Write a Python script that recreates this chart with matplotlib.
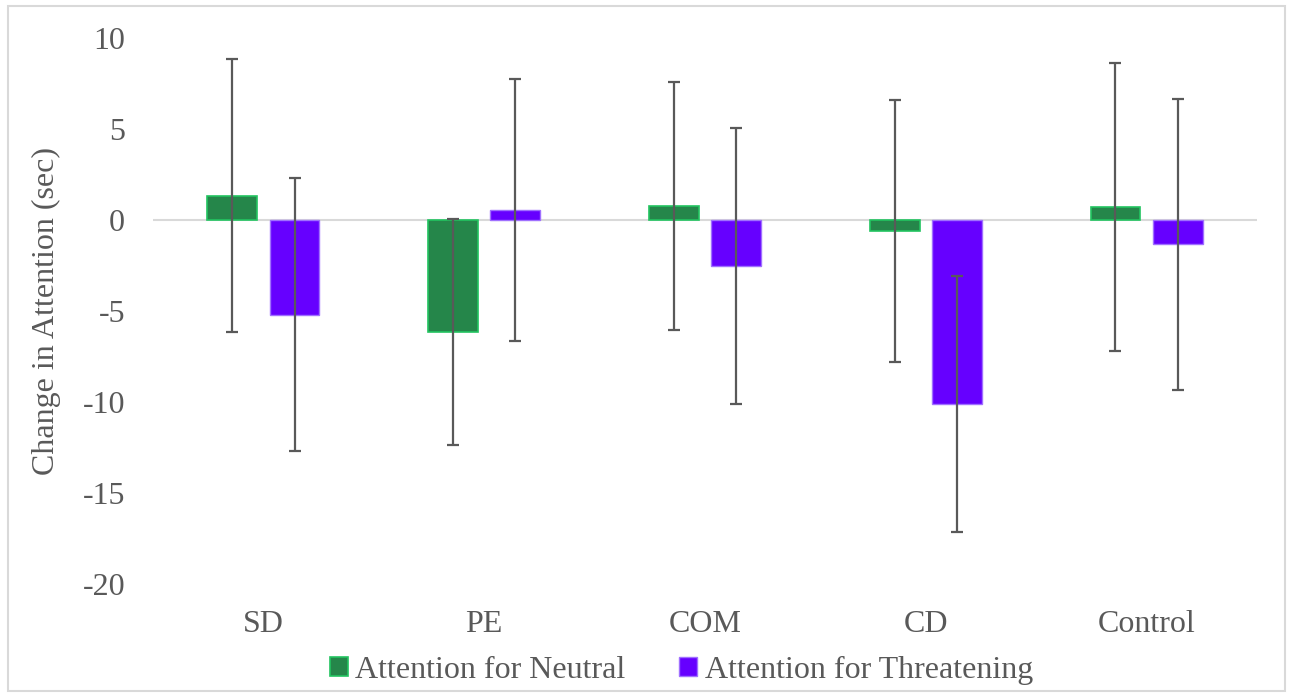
import numpy as np
import matplotlib.pyplot as plt

categories = ['SD', 'PE', 'COM', 'CD', 'Control']
neutral = [1.35, -6.15, 0.78, -0.6, 0.72]
neutral_err = [7.5, 6.2, 6.8, 7.2, 7.9]
threat = [-5.2, 0.55, -2.52, -10.1, -1.33]
threat_err = [7.5, 7.2, 7.6, 7.05, 8.0]

plt.rcParams['font.family'] = ['Liberation Serif', 'DejaVu Serif']
plt.rcParams['axes.unicode_minus'] = False
txt = '#595959'
fs = 23

fig = plt.figure(figsize=(12.93, 6.93), dpi=100)
ax = fig.add_axes([153 / 1293, 0.1573, 1104 / 1293, 0.7877])

x = np.arange(len(categories))
w = 0.225
off = 0.141
err_kw = dict(ecolor='#595959', elinewidth=1.6, capsize=4.5, capthick=1.6)
ax.bar(x - off, neutral, w, yerr=neutral_err, color='#25864A', edgecolor='#22C460',
       linewidth=1.2, label='Attention for Neutral', error_kw=err_kw, zorder=2)
ax.bar(x + off, threat, w, yerr=threat_err, color='#6600FF', edgecolor='#A070FF',
       linewidth=1.0, label='Attention for Threatening', error_kw=err_kw, zorder=2)

ax.axhline(0, color='#D9D9D9', linewidth=1.5, zorder=1)
ax.set_xlim(-0.5, len(categories) - 0.5)
ax.set_ylim(-20, 10)
ax.set_yticks(range(-20, 11, 5))
ax.set_xticks(x)
ax.set_xticklabels(categories)
ax.tick_params(axis='both', length=0, labelsize=fs, colors=txt)
ax.tick_params(axis='y', pad=20)
ax.tick_params(axis='x', pad=19)
for s in ax.spines.values():
    s.set_visible(False)
ax.set_ylabel('Change in Attention (sec)', fontsize=fs, color=txt)
ax.yaxis.set_label_coords(-0.0835, 0.5)

leg = fig.legend(loc='lower center', bbox_to_anchor=(0.527, -0.03), ncol=2, frameon=False,
                 fontsize=fs, handlelength=0.55, handleheight=0.55, handletextpad=0.25,
                 columnspacing=1.67, labelcolor=txt)

fig.patches.append(plt.Rectangle((0.006, 0.003), 0.988, 0.988, transform=fig.transFigure,
                                 fill=False, edgecolor='#D9D9D9', linewidth=1.5))

fig.savefig('out.png', dpi=100)
